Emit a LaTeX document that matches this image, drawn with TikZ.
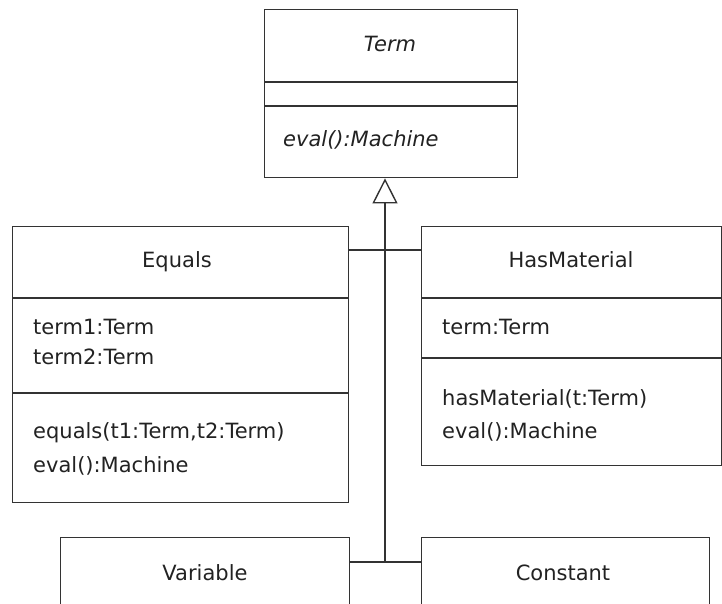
\documentclass[tikz,border=0pt]{standalone}
\usepackage{fontspec}
\setmainfont{DejaVu Sans}
\usetikzlibrary{positioning,arrows.meta,calc}
\definecolor{umlline}{HTML}{333333}
\definecolor{umltext}{HTML}{222222}

\begin{document}
\begin{tikzpicture}[x=1pt, y=-1pt, font=\fontsize{21}{25}\selectfont,
    cls/.style={draw=umlline, line width=1.4pt, anchor=north west, inner sep=0pt},
    member/.style={anchor=base west, inner sep=0pt, text=umltext},
    title/.style={anchor=base, inner sep=0pt, text=umltext},
    link/.style={draw=umlline, line width=1.4pt},
    inherit/.style={link, -{Triangle[open, length=25pt, width=25pt]}}]
  \clip (0,0) rectangle (722,604);

  % class boxes
  \node[cls, minimum width=253pt, minimum height=168pt] (term)     at (264,9)   {};
  \node[cls, minimum width=336pt, minimum height=276pt] (equals)   at (12,226)  {};
  \node[cls, minimum width=300pt, minimum height=239pt] (hasmat)   at (421,226) {};
  \node[cls, minimum width=289pt, minimum height=120pt] (variable) at (60,537)  {};
  \node[cls, minimum width=288pt, minimum height=120pt] (constant) at (421,537) {};

  % compartments
  \draw[link] ($(term.north west)+(0,73)$)   -- ($(term.north east)+(0,73)$);
  \draw[link] ($(term.north west)+(0,97)$)   -- ($(term.north east)+(0,97)$);
  \draw[link] ($(equals.north west)+(0,72)$) -- ($(equals.north east)+(0,72)$);
  \draw[link] ($(equals.north west)+(0,167)$) -- ($(equals.north east)+(0,167)$);
  \draw[link] ($(hasmat.north west)+(0,72)$) -- ($(hasmat.north east)+(0,72)$);
  \draw[link] ($(hasmat.north west)+(0,132)$) -- ($(hasmat.north east)+(0,132)$);

  % texts
  \node[title]  (termname) at (390,52)  {\itshape Term};
  \node[member] (termop)   at (283,147) {\itshape eval():Machine};
  \node[title]  (eqname)   at (177,267) {Equals};
  \node[member] (eqattra)  at (33,334)  {term1:Term};
  \node[member] (eqattrb)  at (33,364)  {term2:Term};
  \node[member] (eqopa)    at (33,438)  {equals(t1:Term,t2:Term)};
  \node[member] (eqopb)    at (33,472)  {eval():Machine};
  \node[title]  (hmname)   at (571,267) {HasMaterial};
  \node[member] (hmattr)   at (442,334) {term:Term};
  \node[member] (hmopa)    at (442,405) {hasMaterial(t:Term)};
  \node[member] (hmopb)    at (442,438) {eval():Machine};
  \node[title]  (varname)  at (205,580) {Variable};
  \node[title]  (conname)  at (563,580) {Constant};

  % generalisation tree
  \coordinate (fork) at (385,250);
  \coordinate (root) at (385,562);
  \draw[inherit] (root) -- (root |- term.south);
  \draw[link] (equals.east |- fork) -- (hasmat.west |- fork);
  \draw[link] (variable.east |- root) -- (constant.west |- root);
\end{tikzpicture}
\end{document}
